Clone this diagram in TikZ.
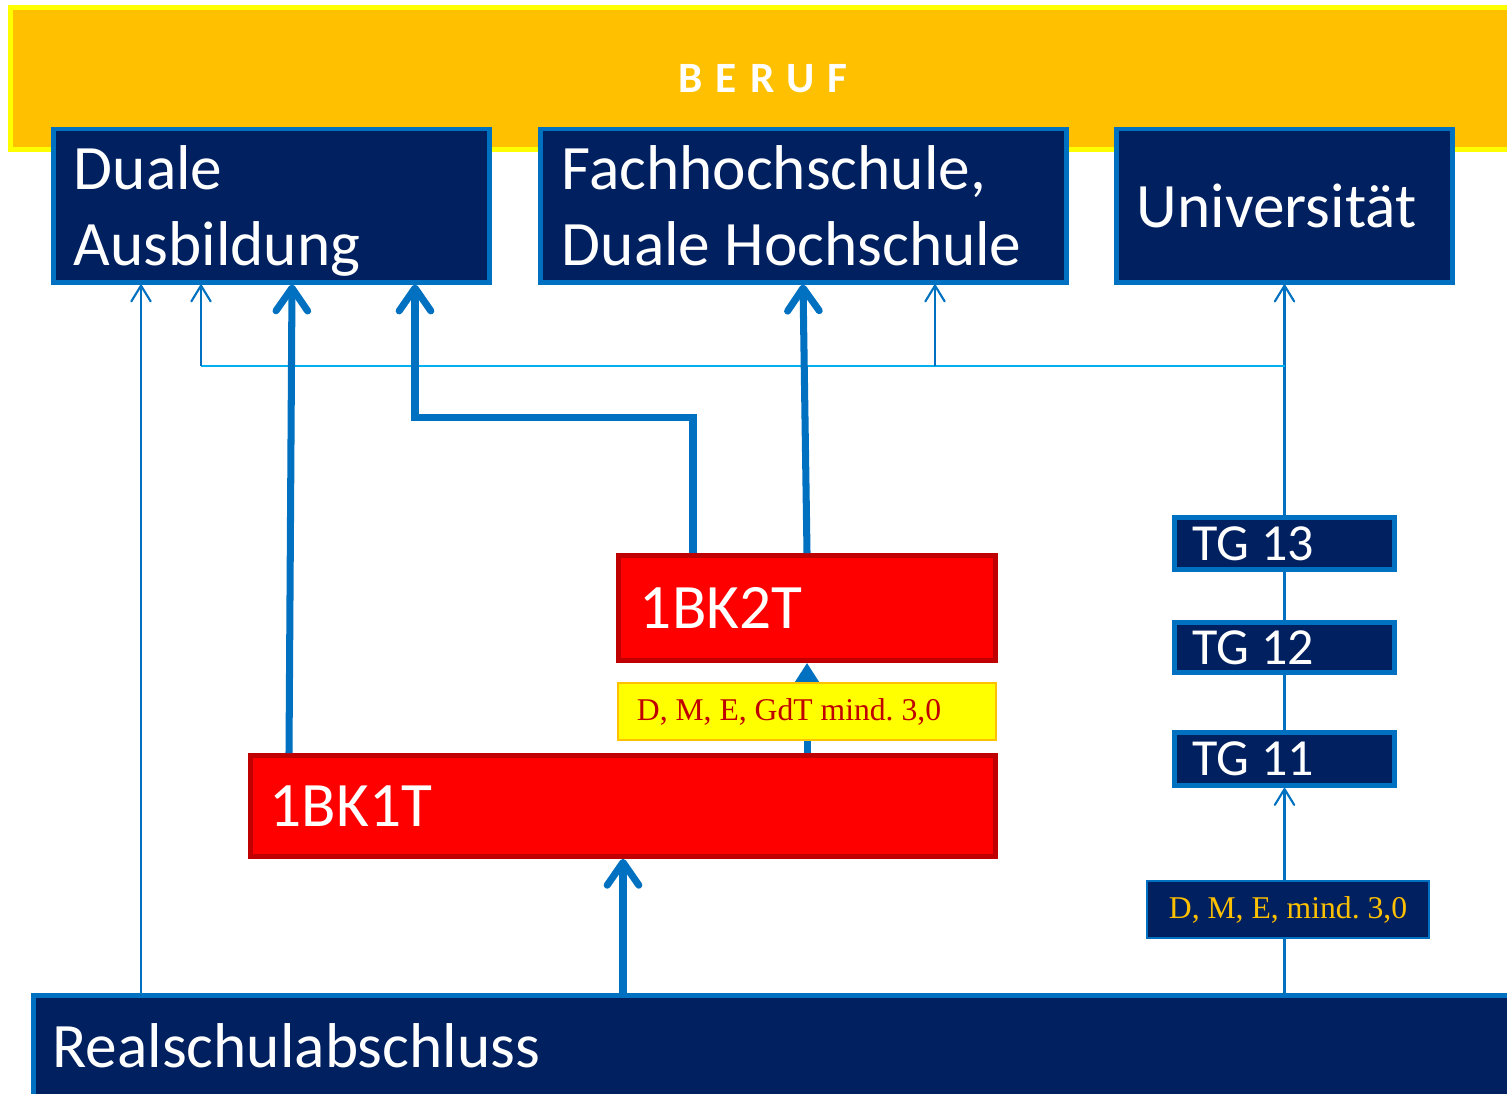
\documentclass[tikz,border=0pt]{standalone}
\usepackage{fontspec}
\setmainfont{Carlito}
\newfontfamily\timesfont{Liberation Serif}
\usetikzlibrary{arrows.meta}

\definecolor{navy}{HTML}{002060}
\definecolor{lineblue}{HTML}{0070C0}
\definecolor{lightblue}{HTML}{00B0F0}
\definecolor{gold}{HTML}{FFC000}
\definecolor{brightyellow}{HTML}{FFFF00}
\definecolor{darkred}{HTML}{C00000}

\tikzset{
  bigtext/.style={font=\fontsize{18}{21.6}\selectfont},
  navybox/.style={draw=lineblue, fill=navy, line width=1.4pt, text=white, bigtext, inner xsep=0.2cm, inner ysep=0pt, align=flush left},
  redbox/.style={draw=darkred, fill=red, line width=1.3pt, text=white, bigtext, inner ysep=0pt, align=flush left},
  tgbox/.style={navybox, font=\fontsize{14.8}{16}\selectfont, minimum width=2.2cm, text width=1.83cm, inner xsep=0.185cm},
  condbox/.style={line width=0.6pt, inner ysep=0pt, minimum height=0.57cm, font=\timesfont\frenchspacing\fontsize{9}{10}\selectfont},
  thinline/.style={lineblue, line width=0.6pt},
  thinarrow/.style={thinline, -{Straight Barb[length=4.5pt,width=5.5pt,round]}},
  thickline/.style={lineblue, line width=2pt},
  thickarrow/.style={thickline, -{Straight Barb[length=6.5pt,width=9pt,round]}}
}

\begin{document}
\begin{tikzpicture}[x=0.01cm, y=-0.01cm]
\useasboundingbox (0,0) rectangle (1507,1093);

% top band
\node[draw=brightyellow, fill=gold, line width=1.4pt, minimum width=15.05cm, minimum height=1.42cm, text=white,
      font=\bfseries\fontsize{12.3}{14}\selectfont\addfontfeature{LetterSpace=30}] (beruf) at (763,78.5) {BERUF};

% goals
\node[navybox, minimum width=4.35cm, minimum height=1.53cm, text width=3.95cm] (duale) at (271.5,205.5) {Duale\\\smash{Ausbildung}};
\node[navybox, minimum width=5.26cm, minimum height=1.53cm, text width=4.83cm, inner xsep=0.215cm] (fach) at (803.5,205.5) {Fachhochschule,\\Duale Hochschule};
\node[navybox, minimum width=3.36cm, minimum height=1.53cm, text width=2.95cm, inner xsep=0.205cm] (uni) at (1284.5,205.5) {Universität};

% schools
\node[redbox, minimum width=3.77cm, minimum height=1.05cm, text width=3.34cm, inner xsep=0.215cm] (bkb) at (807,608) {1BK2T};
\node[redbox, minimum width=7.45cm, minimum height=1.01cm, text width=7.06cm, inner xsep=0.195cm] (bka) at (623,806) {1BK1T};
\node[tgbox, minimum height=0.52cm] (tgc) at (1284.5,543.5) {TG 13};
\node[tgbox, minimum height=0.50cm] (tgb) at (1284.5,647.5) {TG 12};
\node[tgbox, minimum height=0.53cm] (tga) at (1284.5,759) {TG 11};
\node[navybox, minimum width=14.96cm, minimum height=1.1cm, text width=14.58cm, inner xsep=0.19cm, text depth=0.1cm] (real) at (782,1050.5) {Realschulabschluss};

% thin connections
\draw[thinarrow] (141,0 |- real.north) -- (141,0 |- duale.south);
\coordinate (fork) at (uni.south |- 0,366);
\draw[thinarrow] (tgc.north) -- (uni.south);
\draw[lightblue, line width=0.6pt] (fork) -- (fork -| 201,0);
\draw[thinarrow] (fork -| 201,0) -- (201,0 |- duale.south);
\draw[thinarrow] (fork -| 935,0) -- (935,0 |- fach.south);
\draw[thinline] (tgc.south) -- (tgb.north);
\draw[thinline] (tgb.south) -- (tga.north);

% thick connections
\draw[thickarrow] (289,0 |- bka.north) -- (292,0 |- duale.south);
\draw[thickarrow] (693,0 |- bkb.north) |- (415,417) -- (415,0 |- duale.south);
\draw[thickarrow] (807,0 |- bkb.north) -- (803,0 |- fach.south);
\draw[thickarrow] (real.north -| bka.south) -- (bka.south);
\draw[thickline, -{Triangle[length=5.7pt,width=6.8pt]}] (bkb.south |- bka.north) -- (bkb.south);

% conditions
\node[condbox, draw=gold, fill=brightyellow, text=darkred, minimum width=3.78cm, text width=3.40cm, inner xsep=0.19cm, align=flush left] (condbk) at (807,711.5) {D, M, E, GdT mind. 3,0};
\node[condbox, draw=lineblue, fill=navy, text=gold, minimum width=2.82cm] (condtg) at (1288,909.5) {D, M, E, mind. 3,0};
\draw[thinarrow] (condtg.north -| tga.south) -- (tga.south);
\draw[thinline] (real.north -| tga.south) -- (condtg.south -| tga.south);
\end{tikzpicture}
\end{document}
